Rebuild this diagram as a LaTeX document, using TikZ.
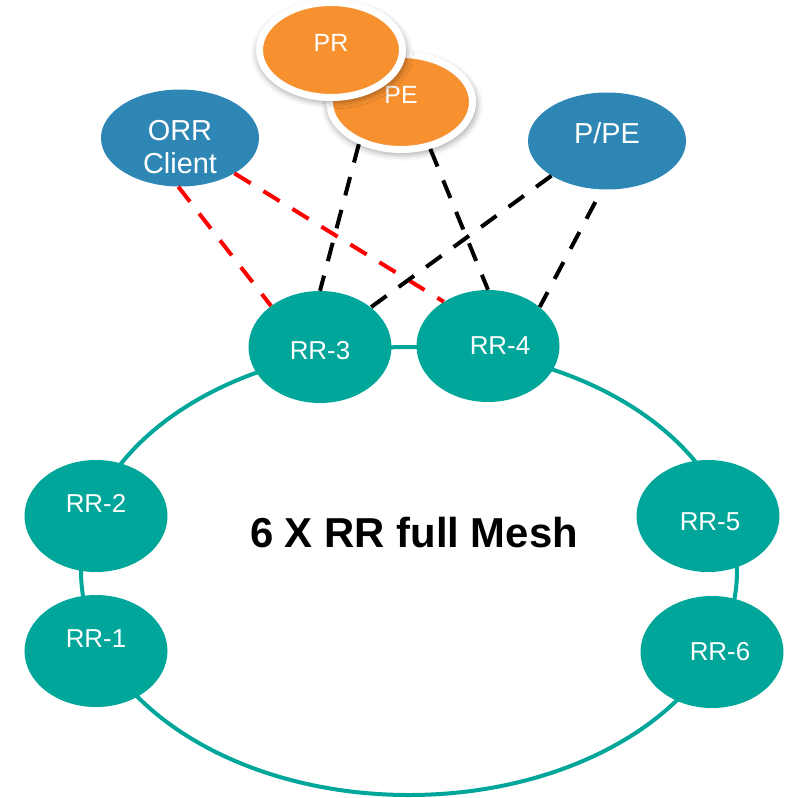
\documentclass[tikz,border=0pt]{standalone}
\usepackage{fontspec}
\setmainfont{Liberation Sans}
\usetikzlibrary{shapes.geometric,shadows.blur}
\definecolor{rrteal}{RGB}{0,166,154}
\definecolor{clientblue}{RGB}{46,134,181}
\definecolor{peorange}{RGB}{247,145,48}

\begin{document}
\begin{tikzpicture}[
    x=1bp,y=-1bp,
    rrnode/.style={ellipse,fill=rrteal,minimum width=143bp,minimum height=112bp,inner sep=0pt},
    rrtext/.style={text=white,font=\fontsize{26}{30}\selectfont},
    bluenode/.style={ellipse,fill=clientblue,minimum width=158bp,minimum height=97bp,inner sep=0pt},
    bluetext/.style={text=white,align=center,font=\fontsize{29}{34}\selectfont},
    orangenode/.style={ellipse,fill=peorange,draw=white,line width=7bp,minimum width=143bp,minimum height=95bp,inner sep=0pt,
        blur shadow={shadow xshift=1bp,shadow yshift=-3bp,shadow scale=1.06,shadow blur radius=5bp,shadow opacity=30}},
    orangetext/.style={text=white,font=\fontsize{25}{30}\selectfont},
    ringline/.style={draw=rrteal,line width=4bp},
    dashlink/.style={line width=4bp,dash pattern=on 19bp off 15bp}
]
\useasboundingbox (0,0) rectangle (787,798);

% full mesh ring
\draw[ringline] (409,571) ellipse [x radius=328bp,y radius=224bp];

\node[rrnode,label={[rrtext,yshift=13bp]center:RR-2}] (rr2) at (96,516) {};
\node[rrnode,label={[rrtext,yshift=12bp]center:RR-1}] (rr1) at (96,651) {};
\node[rrnode,label={[rrtext,yshift=-4bp]center:RR-3}] (rr3) at (320,347) {};
\node[rrnode,label={[rrtext,xshift=12bp]center:RR-4}] (rr4) at (488,346) {};
\node[rrnode,label={[rrtext,xshift=2bp,yshift=-6bp]center:RR-5}] (rr5) at (708,516) {};
\node[rrnode,label={[rrtext,xshift=8bp]center:RR-6}] (rr6) at (712,652) {};

\node[font=\fontsize{42}{48}\bfseries\selectfont] (mesh) at (414,533) {6 X RR full Mesh};

\node[bluenode,label={[bluetext,yshift=-9bp]center:ORR\\Client}] (orr) at (180,138) {};
\node[bluenode,label={[bluetext,yshift=8bp]center:P/PE}] (ppe) at (607,141) {};

\node[orangenode,label={[orangetext,yshift=7bp]center:PE}] (pe) at (401,102) {};
\node[orangenode,label={[orangetext,yshift=7bp]center:PR}] (pr) at (331,50) {};

% sessions
\draw[dashlink,red] (orr.-92) -- (rr3.140);
\draw[dashlink,red] (orr.-33) -- (rr4.135);
\draw[dashlink] (pe.-135) -- (rr3.90);
\draw[dashlink] (pe.-58) -- (rr4.90);
\draw[dashlink] (ppe.-148) -- (rr3.38);
\draw[dashlink,shorten <=14bp] (ppe.-96) -- (rr4.37);
\end{tikzpicture}
\end{document}
